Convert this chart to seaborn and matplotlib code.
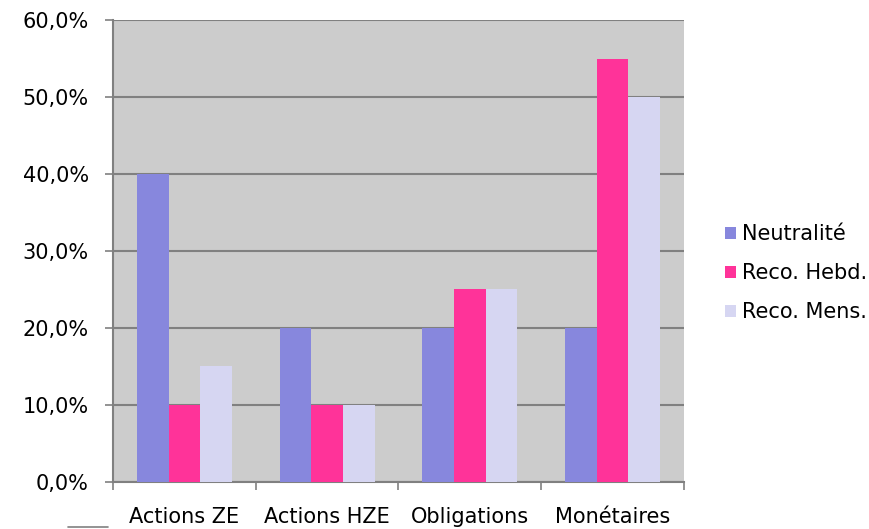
import numpy as np
import pandas as pd
import seaborn as sns
import matplotlib.pyplot as plt
from matplotlib.lines import Line2D
from matplotlib.ticker import FuncFormatter, FixedLocator

categories = ["Actions ZE", "Actions HZE", "Obligations", "Monétaires"]
series = ["Neutralité", "Reco. Hebd.", "Reco. Mens."]
neutralite = [40.0, 20.0, 20.0, 20.0]
reco_hebd = [10.0, 10.0, 25.0, 55.0]
reco_mens = [15.0, 10.0, 25.0, 50.0]
colors = ["#8787DD", "#FF3399", "#D6D6F2"]

rows = []
for name, vals in zip(series, [neutralite, reco_hebd, reco_mens]):
    for cat, v in zip(categories, vals):
        rows.append({"cat": cat, "serie": name, "val": v})
df = pd.DataFrame(rows)

sns.set_theme(style="white")
plt.rcParams['font.family'] = ['DejaVu Sans']

fig = plt.figure(figsize=(8.7, 5.29), dpi=100)
ax = fig.add_axes([0.130, 0.089, 0.656, 0.873])
ax.set_facecolor("#CCCCCC")

sns.barplot(data=df, x="cat", y="val", hue="serie", palette=colors,
            width=0.667, saturation=1, ax=ax, zorder=3, edgecolor="none")

ax.set_ylim(0, 60)
ax.set_xlim(-0.5, 3.5)
ax.set_yticks(np.arange(0, 61, 10))
ax.yaxis.set_major_formatter(FuncFormatter(lambda v, p: f"{v:.1f}%".replace(".", ",")))
ax.grid(axis="y", color="#808080", linewidth=1.5, zorder=1)
ax.set_axisbelow(True)

for s in ["top", "right"]:
    ax.spines[s].set_visible(False)
for s in ["left", "bottom"]:
    ax.spines[s].set_color("#808080")
    ax.spines[s].set_linewidth(1.5)

ax.tick_params(axis="y", which="major", left=True, length=6, width=1.2,
               color="#808080", labelsize=15, labelcolor="black", pad=11.5)
ax.tick_params(axis="x", which="major", bottom=False, length=0, labelsize=15,
               labelcolor="black", pad=18)
ax.xaxis.set_minor_locator(FixedLocator(np.arange(-0.5, 4, 1)))
ax.tick_params(axis="x", which="minor", bottom=True, length=6, width=1.2,
               color="#808080")
ax.set_xlabel("")
ax.set_ylabel("")

leg = ax.legend(loc="center left", bbox_to_anchor=(1.04, 0.452), frameon=False,
                fontsize=15, handlelength=0.5, handleheight=0.5,
                handletextpad=0.3, labelspacing=0.92, labelcolor="black")

# stray grey stroke at the bottom-left of the original picture
fig.add_artist(Line2D([68 / 870, 108 / 870], [2 / 529, 2 / 529],
                      color="#808080", linewidth=1.2))

fig.savefig("out.png", dpi=100)
